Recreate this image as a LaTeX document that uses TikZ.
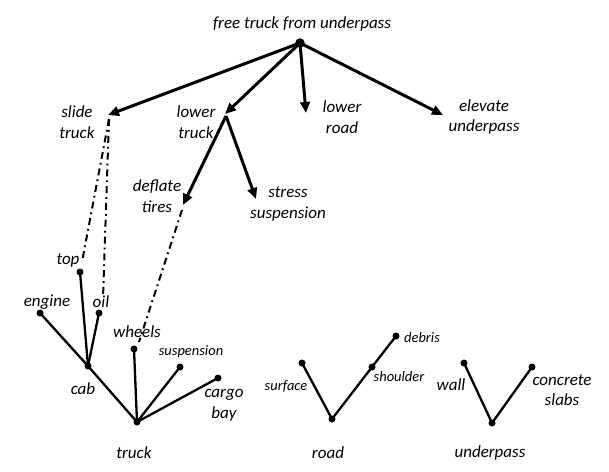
\documentclass[tikz,border=0pt]{standalone}
\usepackage{fontspec}
\setmainfont{Carlito}
\usetikzlibrary{arrows.meta}
\tikzset{
  lbl/.style={font=\itshape\fontsize{17}{20.5}\selectfont, align=center, inner sep=0pt},
  slbl/.style={font=\itshape\fontsize{14.5}{17}\selectfont, align=center, inner sep=0pt},
  dot/.style={circle, fill=black, inner sep=0pt, minimum size=7pt},
  bigdot/.style={circle, fill=black, inner sep=0pt, minimum size=9.5pt},
  arr/.style={line width=3pt, -{Triangle[length=11pt,width=9.5pt]}},
  tree/.style={line width=2.3pt},
  dashdot/.style={line width=2pt, dash pattern=on 7pt off 4pt on 1.8pt off 4pt},
}
\begin{document}
\begin{tikzpicture}[x=1pt,y=-1pt]
\useasboundingbox (0,0) rectangle (609,471);
% labels
\node[lbl] (ttitle) at (302,24) {free truck from underpass};
\node[lbl] (tslide) at (77,122) {slide\\truck};
\node[lbl] (tlowert) at (196,122) {lower\\truck};
\node[lbl] (tlowerr) at (342,117) {lower\\road};
\node[lbl] (televate) at (484,117) {elevate\\underpass};
\node[lbl] (tdeflate) at (157,196) {deflate\\tires};
\node[lbl] (tstress) at (288,204) {stress\\suspension};
\node[lbl] (ttop) at (68,260) {top};
\node[lbl] (tengine) at (47,302) {engine};
\node[lbl] (toil) at (101,302) {oil};
\node[lbl] (twheels) at (137,332) {wheels};
\node[slbl] (tsusp) at (191,352) {suspension};
\node[lbl] (tcargo) at (224,405) {cargo\\bay};
\node[lbl] (tcab) at (83,389) {cab};
\node[lbl] (ttruck) at (134,453) {truck};
\node[slbl] (tsurface) at (286,386) {surface};
\node[slbl] (tshoulder) at (399,377) {shoulder};
\node[slbl] (tdebris) at (422,338) {debris};
\node[lbl] (troad) at (328,453) {road};
\node[lbl] (twall) at (451,385) {wall};
\node[lbl] (tconcrete) at (562,390) {concrete\\slabs};
\node[lbl] (tunderpass) at (490,453) {underpass};
% goal tree
\node[bigdot] (root) at (300,43) {};
\coordinate (slide) at (108,115);
\coordinate (lowert) at (225,114);
\coordinate (lowerr) at (306,113);
\coordinate (elevate) at (443,115);
\coordinate (lowerts) at (226,116);
\coordinate (deflate) at (183,205);
\coordinate (stress) at (256,199);
\draw[arr] (root.center) -- (slide);
\draw[arr] (root.center) -- (lowert);
\draw[arr] (root.center) -- (lowerr);
\draw[arr] (root.center) -- (elevate);
\draw[arr] (lowerts) -- (deflate);
\draw[arr] (lowerts) -- (stress);
% truck tree
\node[dot] (truck) at (137,422) {};
\node[dot] (cab) at (88,366) {};
\node[dot] (engine) at (40,313) {};
\node[dot] (top) at (80,272) {};
\node[dot] (oil) at (99,313) {};
\node[dot] (wheels) at (134,349) {};
\node[dot] (susp) at (180,367) {};
\node[dot] (cargo) at (218,378) {};
\draw[tree] (truck.center) -- (cab.center) -- (engine.center);
\draw[tree] (cab.center) -- (top.center);
\draw[tree] (cab.center) -- (oil.center);
\draw[tree] (truck.center) -- (wheels.center);
\draw[tree] (truck.center) -- (susp.center);
\draw[tree] (truck.center) -- (cargo.center);
% road tree
\node[dot] (road) at (332,419) {};
\node[dot] (surface) at (302,363) {};
\node[dot] (shoulder) at (372,367) {};
\node[dot] (debris) at (396,336) {};
\draw[tree] (surface.center) -- (road.center) -- (shoulder.center) -- (debris.center);
% underpass tree
\node[dot] (under) at (492,423) {};
\node[dot] (wall) at (464,363) {};
\node[dot] (concrete) at (532,367) {};
\draw[tree] (wall.center) -- (under.center) -- (concrete.center);
% dash-dot links
\coordinate (slidefoot) at (109,119);
\coordinate (topend) at (82,262);
\coordinate (oilend) at (103,298);
\coordinate (deflatefoot) at (182,210);
\coordinate (wheelsend) at (139,342);
\draw[dashdot] (slidefoot) -- (topend);
\draw[dashdot] (slidefoot) -- (oilend);
\draw[dashdot] (deflatefoot) -- (wheelsend);
\end{tikzpicture}
\end{document}
